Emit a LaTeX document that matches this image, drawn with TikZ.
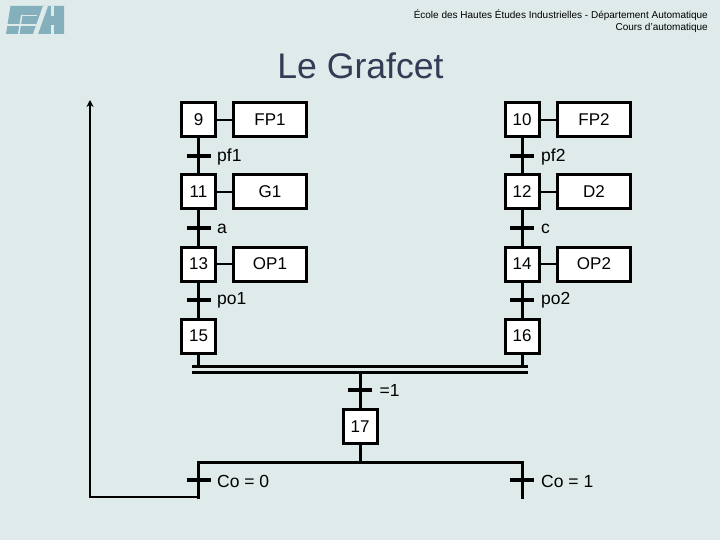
\documentclass[tikz,border=0pt]{standalone}
\usepackage{fontspec}
\setmainfont{Liberation Sans}
\usetikzlibrary{arrows.meta}
\definecolor{bgc}{HTML}{DEEBEA}
\definecolor{logoc}{HTML}{84B0BE}
\definecolor{titlec}{HTML}{333B55}
\tikzset{
  x=1pt,y=-1pt,
  stepbox/.style={draw=black,fill=white,line width=3pt,minimum width=34pt,minimum height=34pt,inner sep=0pt,font=\fontsize{17}{19}\selectfont},
  actbox/.style={draw=black,fill=white,line width=3pt,minimum width=73pt,minimum height=34pt,inner sep=0pt,font=\fontsize{17}{19}\selectfont},
  wire/.style={line width=3pt,draw=black},
  thin wire/.style={line width=2pt,draw=black},
  tick/.style={line width=4pt,draw=black},
  lab/.style={anchor=west,inner sep=0pt,font=\fontsize{17.5}{19}\selectfont},
}
\begin{document}
\begin{tikzpicture}
\useasboundingbox (0,0) rectangle (720,540);
\fill[bgc] (0,0) rectangle (720,540);
% logo
\fill[logoc] (10.5,6) -- (64,6) -- (64,34) -- (6,34) -- cycle;
\fill[bgc] (6,24.5) rectangle (36,26);
\fill[bgc] (21,15) rectangle (37,16.5);
\fill[bgc] (21,15) -- (22.5,15) -- (19.5,34) -- (18,34) -- cycle;
\fill[bgc] (43,6) -- (48,6) -- (38,34) -- (33,34) -- cycle;
\fill[bgc] (51,6) rectangle (54,16);
\fill[bgc] (51,25) rectangle (54,34);
% header
\node[anchor=east,inner sep=0pt,font=\fontsize{10}{12}\selectfont] (h1) at (708,15) {École des Hautes Études Industrielles - Département Automatique};
\node[anchor=east,inner sep=0pt,font=\fontsize{10}{12}\selectfont] (h2) at (708,28) {Cours d'automatique};
\node[inner sep=0pt,text=titlec,font=\fontsize{35.6}{40}\selectfont] (title) at (360.5,66) {Le Grafcet};
% coordinates
\coordinate (j1) at (192,366.7);
\coordinate (j2) at (527.5,366.7);
\coordinate (k1) at (192,372.3);
\coordinate (k2) at (527.5,372.3);
\coordinate (bm) at (360,372.3);
\coordinate (bL) at (198.5,462);
\coordinate (bM) at (360,462);
\coordinate (bR) at (522,462);
\coordinate (eL) at (198.5,497);
\coordinate (eR) at (522,497);
\coordinate (up) at (90,497);
\coordinate (top) at (90,100);
\coordinate (j15) at (198.5,366.7);
\coordinate (j16) at (522,366.7);
% steps and actions
\node[stepbox] (s9) at (198.5,120) {9};
\node[stepbox] (s11) at (198.5,192) {11};
\node[stepbox] (s13) at (198.5,264) {13};
\node[stepbox] (s15) at (198.5,336) {15};
\node[stepbox] (s10) at (522,120) {10};
\node[stepbox] (s12) at (522,192) {12};
\node[stepbox] (s14) at (522,264) {14};
\node[stepbox] (s16) at (522,336) {16};
\node[stepbox] (s17) at (360,426.5) {17};
\node[actbox] (a9) at (270,120) {FP1};
\node[actbox] (a11) at (270,192) {G1};
\node[actbox] (a13) at (270,264) {OP1};
\node[actbox] (a10) at (594,120) {FP2};
\node[actbox] (a12) at (594,192) {D2};
\node[actbox] (a14) at (594,264) {OP2};
\foreach \a/\b in {s9/a9,s11/a11,s13/a13,s10/a10,s12/a12,s14/a14}
  \draw[thin wire] (\a) -- (\b);
\foreach \a/\b in {s9/s11,s11/s13,s13/s15,s10/s12,s12/s14,s14/s16}
  \draw[wire] (\a) -- (\b);
\draw[wire] (s15) -- (j15);
\draw[wire] (s16) -- (j16);
\draw[wire] (j1) -- (j2);
\draw[wire] (k1) -- (k2);
\draw[wire] (bm) -- (s17);
\draw[wire] (s17) -- (bM);
\draw[wire,line cap=rect] (eL) -- (bL) -- (bR) -- (eR);
\draw[line width=2pt,-{Stealth[length=7pt,width=7pt]}] (eL) -- (up) -- (top);
% transitions
\foreach \n/\x/\y in {t1/198.5/156,t3/198.5/228,t5/198.5/300,t2/522/156,t4/522/228,t6/522/300,t7/360/390,t8/198.5/480,t9/522/480}{
  \coordinate (\n l) at (\x-12,\y);
  \coordinate (\n r) at (\x+12,\y);
  \draw[tick] (\n l) -- (\n r);
}
\node[lab] (l1) at (217,157) {pf1};
\node[lab] (l3) at (217,229) {a};
\node[lab] (l5) at (217,300) {po1};
\node[lab] (l2) at (541,157) {pf2};
\node[lab] (l4) at (541,229) {c};
\node[lab] (l6) at (541,300) {po2};
\node[lab] (l7) at (379.5,390) {=1};
\node[lab] (l8) at (217,481) {Co = 0};
\node[lab] (l9) at (541,481) {Co = 1};
\end{tikzpicture}
\end{document}
